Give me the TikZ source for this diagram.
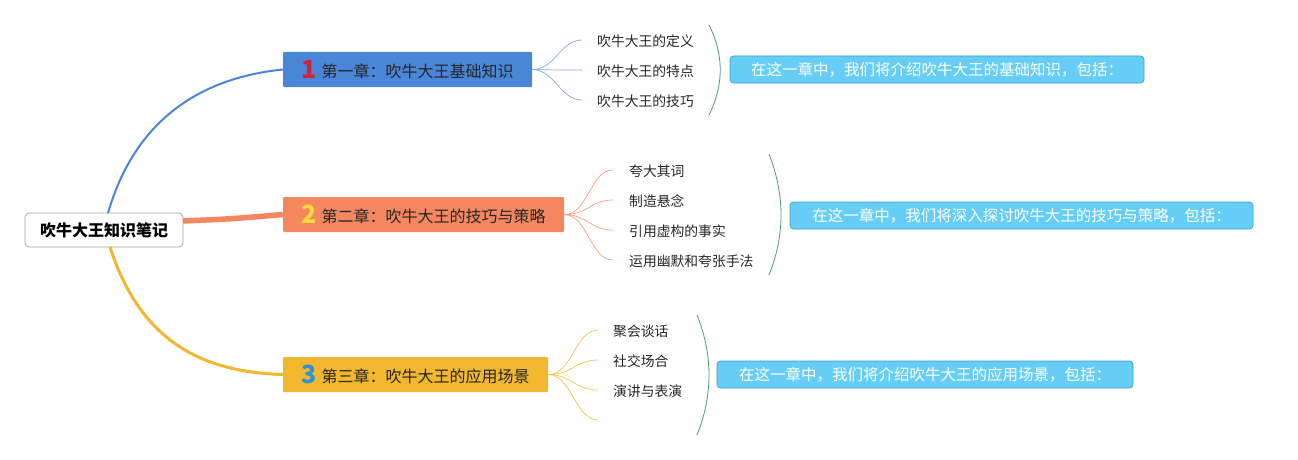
\documentclass[tikz,border=0pt]{standalone}
\usepackage{fontspec}
\newfontfamily\cjk{Noto Sans CJK SC}
\definecolor{cblue}{HTML}{4A86D8}
\definecolor{corange}{HTML}{F4875F}
\definecolor{cyellow}{HTML}{F0B72F}
\definecolor{ncred}{HTML}{D3213A}
\definecolor{ncyellow}{HTML}{F7DA3C}
\definecolor{ncblue}{HTML}{2B93D6}
\definecolor{sumfill}{HTML}{66CEF6}
\definecolor{sumdraw}{HTML}{3D9FC8}
\definecolor{brack}{HTML}{4E9A86}
\newcommand{\chnum}[2]{\raisebox{-1pt}{\color{#1}\cjk\bfseries\fontsize{25}{25}\selectfont #2}}
\begin{document}
\begin{tikzpicture}[x=1pt,y=-1pt,
  rootbox/.style={draw=black!35, line width=0.8pt, fill=white, rounded corners=4pt, minimum width=158pt, minimum height=34pt, inner sep=0pt, font=\cjk\bfseries\fontsize{16}{18}\selectfont},
  chbox/.style={minimum height=35pt, inner sep=0pt, rounded corners=1pt, font=\cjk\fontsize{16}{18}\selectfont, text=black!85},
  subtxt/.style={anchor=west, inner sep=0pt, font=\cjk\fontsize{13.8}{16}\selectfont, text=black!85},
  sumbox/.style={draw=sumdraw, fill=sumfill, line width=0.7pt, rounded corners=3.5pt, minimum height=27pt, inner sep=0pt, text=white, font=\cjk\fontsize{15.5}{18}\selectfont},
  fan/.style={line width=0.7pt},
  brk/.style={draw=brack, line width=0.8pt}
]
\useasboundingbox (0,0) rectangle (1298,460);

% root
\node[rootbox] (root) at (104,230) {吹牛大王知识笔记};

% chapters
\node[chbox, fill=cblue, minimum width=249pt] (ch1) at (407.5,69.5)
  {\chnum{ncred}{1}\hspace{5pt}第一章：吹牛大王基础知识};
\node[chbox, fill=corange, minimum width=281pt] (ch2) at (423.5,214.5)
  {\chnum{ncyellow}{2}\hspace{5pt}第二章：吹牛大王的技巧与策略};
\node[chbox, fill=cyellow, minimum width=265pt] (ch3) at (415.5,374.5)
  {\chnum{ncblue}{3}\hspace{5pt}第三章：吹牛大王的应用场景};

% root branches
\coordinate (r1) at (108,213);
\coordinate (r2) at (183,221);
\coordinate (r3) at (110,247);
\draw[cblue, line width=2pt] (r1) .. controls (135,120) and (200,78) .. (ch1.west);
\draw[corange, line width=5.5pt] (r2) .. controls (230,219) .. (ch2.west);
\draw[cyellow, line width=3pt] (r3) .. controls (140,340) and (200,372) .. (ch3.west);

% chapter 1 subtopics
\node[subtxt] (s11) at (597,41) {吹牛大王的定义};
\node[subtxt] (s12) at (597,71) {吹牛大王的特点};
\node[subtxt] (s13) at (597,101) {吹牛大王的技巧};
\coordinate (e11) at (582,40);
\coordinate (e12) at (582,70);
\coordinate (e13) at (582,100);
\foreach \e in {e11,e12,e13}
  \draw[fan, cblue!70] (ch1.east) .. controls (555,70) and (560,0|-\e) .. (\e);

% chapter 2 subtopics
\node[subtxt] (s21) at (629,171) {夸大其词};
\node[subtxt] (s22) at (629,201) {制造悬念};
\node[subtxt] (s23) at (629,231) {引用虚构的事实};
\node[subtxt] (s24) at (629,261) {运用幽默和夸张手法};
\coordinate (e21) at (613,170);
\coordinate (e22) at (613,200);
\coordinate (e23) at (613,230);
\coordinate (e24) at (613,260);
\foreach \e in {e21,e22,e23,e24}
  \draw[fan, corange!80] (ch2.east) .. controls (588,215) and (590,0|-\e) .. (\e);

% chapter 3 subtopics
\node[subtxt] (s31) at (613,331) {聚会谈话};
\node[subtxt] (s32) at (613,361) {社交场合};
\node[subtxt] (s33) at (613,391) {演讲与表演};
\coordinate (e31) at (598,330);
\coordinate (e32) at (598,360);
\coordinate (e33) at (598,390);
\coordinate (e34) at (598,420);
\foreach \e in {e31,e32,e33,e34}
  \draw[fan, cyellow!85] (ch3.east) .. controls (572,375) and (575,0|-\e) .. (\e);

% brackets
\coordinate (b1a) at (709,25);
\coordinate (b1b) at (709,115);
\draw[brk] (b1a) .. controls (724,55) and (724,85) .. (b1b);
\coordinate (b2a) at (769,154);
\coordinate (b2b) at (769,275);
\draw[brk] (b2a) .. controls (785,195) and (785,235) .. (b2b);
\coordinate (b3a) at (697,315);
\coordinate (b3b) at (697,435);
\draw[brk] (b3a) .. controls (713,355) and (713,395) .. (b3b);

% summaries
\node[sumbox, minimum width=414pt] (m1) at (937,69.5) {在这一章中，我们将介绍吹牛大王的基础知识，包括：};
\node[sumbox, minimum width=463pt] (m2) at (1021.5,215.5) {在这一章中，我们将深入探讨吹牛大王的技巧与策略，包括：};
\node[sumbox, minimum width=416pt] (m3) at (925,374.5) {在这一章中，我们将介绍吹牛大王的应用场景，包括：};
\end{tikzpicture}
\end{document}
